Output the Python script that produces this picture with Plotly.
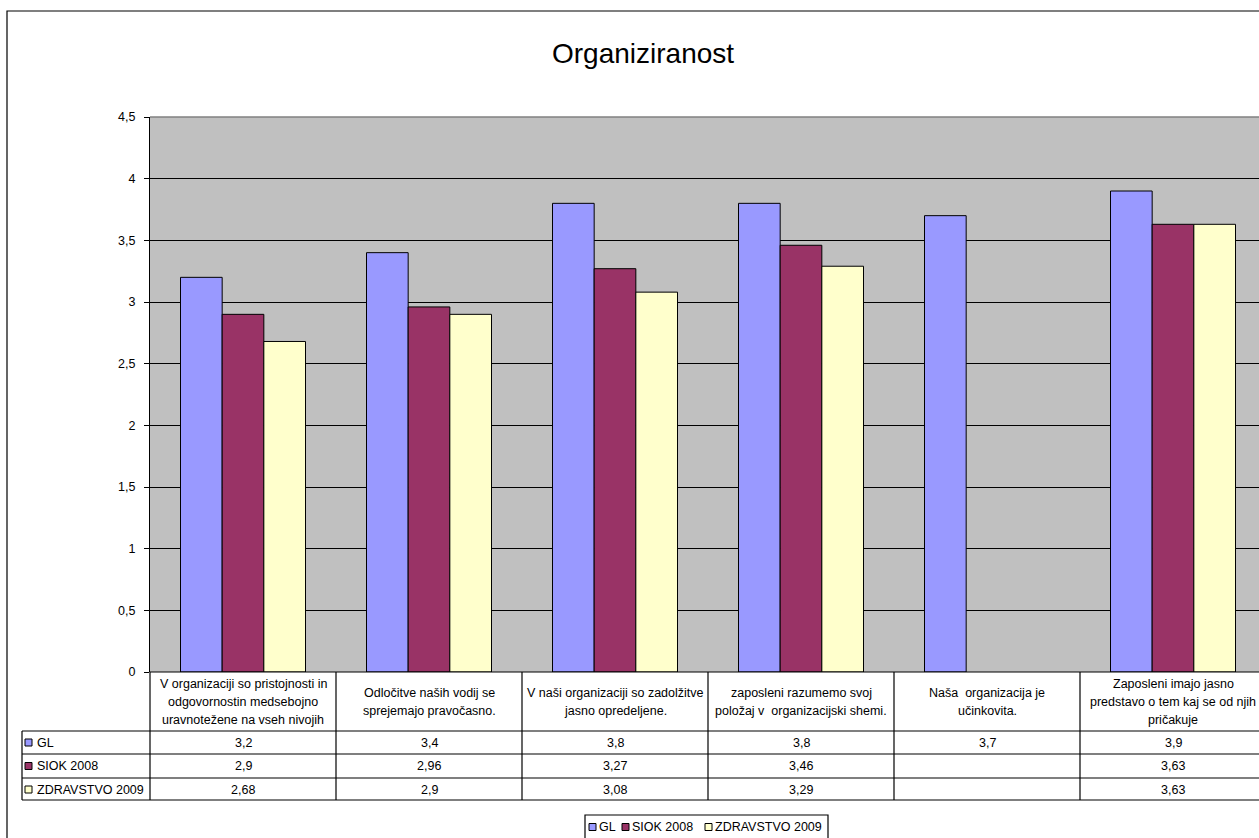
import plotly.graph_objects as go

# ---------------- data ----------------
title_text = "Organiziranost"
categories = [
    "V organizaciji so pristojnosti in<br>odgovornostin medsebojno<br>uravnotežene na vseh nivojih",
    "Odločitve naših vodij se<br>sprejemajo pravočasno.",
    "V naši organizaciji so zadolžitve<br>jasno opredeljene.",
    "zaposleni razumemo svoj<br>položaj v  organizacijski shemi.",
    "Naša  organizacija je<br>učinkovita.",
    "Zaposleni imajo jasno<br>predstavo o tem kaj se od njih<br>pričakuje",
]
series_names = ["GL", "SIOK 2008", "ZDRAVSTVO 2009"]
gl_values = [3.2, 3.4, 3.8, 3.8, 3.7, 3.9]
siok_values = [2.9, 2.96, 3.27, 3.46, None, 3.63]
zdr_values = [2.68, 2.9, 3.08, 3.29, None, 3.63]
y_tick_vals = [0, 0.5, 1, 1.5, 2, 2.5, 3, 3.5, 4, 4.5]
y_tick_text = ["0", "0,5", "1", "1,5", "2", "2,5", "3", "3,5", "4", "4,5"]

series_values = [gl_values, siok_values, zdr_values]
series_colors = ["#9999FF", "#993366", "#FFFFCC"]

# ---------------- geometry ----------------
W, H = 1259, 838
L, T, B, R = 150, 117, 166, 0
PW = W - L - R
PH = H - T - B
BOTTOM = H - B


def px(x):
    return (x - L) / PW


def py(y):
    return (BOTTOM - y) / PH


FONT = "Liberation Sans, Arial, sans-serif"
SMALL = 12.5
LINE = dict(color="black", width=1.2)

fig = go.Figure()
for name, vals, col in zip(series_names, series_values, series_colors):
    fig.add_trace(go.Bar(
        x=categories, y=vals, name=name,
        marker=dict(color=col, line=dict(color="black", width=1)),
    ))

shapes = []
# outer border
shapes.append(dict(type="rect", xref="paper", yref="paper",
                   x0=px(7), x1=px(1290), y0=py(860), y1=py(11),
                   line=LINE, layer="below"))
# top plot border (gray)
shapes.append(dict(type="line", xref="paper", yref="paper", x0=0, x1=1.05, y0=1, y1=1,
                   line=dict(color="#808080", width=1.5)))
# table horizontal lines
shapes.append(dict(type="line", xref="paper", yref="paper", x0=0, x1=1.05,
                   y0=py(672), y1=py(672), line=LINE))
for yy in [731, 754, 778, 800]:
    shapes.append(dict(type="line", xref="paper", yref="paper", x0=px(22), x1=1.05,
                       y0=py(yy), y1=py(yy), line=LINE))
# table vertical lines
shapes.append(dict(type="line", xref="paper", yref="paper", x0=0, x1=0,
                   y0=py(672), y1=py(800), line=LINE))
shapes.append(dict(type="line", xref="paper", yref="paper", x0=px(22), x1=px(22),
                   y0=py(731), y1=py(800), line=LINE))
for i in range(1, len(categories)):
    shapes.append(dict(type="line", xref="x", yref="paper", x0=i - 0.5, x1=i - 0.5,
                       y0=py(672), y1=py(800), line=LINE))

row_centers = [742.5, 766, 789.5]
annotations = []
# title
annotations.append(dict(text=title_text, xref="paper", yref="paper", x=px(643), y=py(53),
                        showarrow=False, xanchor="center", yanchor="middle",
                        font=dict(family=FONT, size=28, color="black")))
# header row (category labels)
for i, cat in enumerate(categories):
    lines = cat.split("<br>")
    n = len(lines)
    for k, line in enumerate(lines):
        yc = 701.5 + (k - (n - 1) / 2) * 18
        annotations.append(dict(text=line, xref="x", yref="paper", x=i, y=py(yc),
                                showarrow=False, xanchor="center", yanchor="middle",
                                font=dict(family=FONT, size=SMALL, color="black")))
# data-table rows
for j, (name, vals, col) in enumerate(zip(series_names, series_values, series_colors)):
    yc = row_centers[j]
    shapes.append(dict(type="rect", xref="paper", yref="paper",
                       x0=px(25), x1=px(32), y0=py(yc + 3.5), y1=py(yc - 3.5),
                       fillcolor=col, line=dict(color="black", width=1)))
    annotations.append(dict(text=name, xref="paper", yref="paper", x=px(35), y=py(yc),
                            showarrow=False, xanchor="left", yanchor="middle",
                            font=dict(family=FONT, size=SMALL, color="black")))
    for i, v in enumerate(vals):
        if v is None:
            continue
        annotations.append(dict(text=str(v).replace(".", ","), xref="x", yref="paper",
                                x=i, y=py(yc), showarrow=False,
                                xanchor="center", yanchor="middle",
                                font=dict(family=FONT, size=SMALL, color="black")))

# legend box at the bottom (drawn like the original compact legend)
shapes.append(dict(type="rect", xref="paper", yref="paper",
                   x0=px(585), x1=px(828), y0=py(860), y1=py(815),
                   line=LINE, fillcolor="white"))
legend_swatch_x = [589, 622, 705]
legend_text_x = [597, 630, 713]
legend_y = 827
for name, col, sx, tx in zip(series_names, series_colors, legend_swatch_x, legend_text_x):
    shapes.append(dict(type="rect", xref="paper", yref="paper",
                       x0=px(sx), x1=px(sx + 7), y0=py(legend_y + 3.5), y1=py(legend_y - 3.5),
                       fillcolor=col, line=dict(color="black", width=1)))
    annotations.append(dict(text=name, xref="paper", yref="paper", x=px(tx), y=py(legend_y),
                            showarrow=False, xanchor="left", yanchor="middle",
                            font=dict(family=FONT, size=12.5, color="black")))

fig.update_layout(
    width=W, height=H,
    margin=dict(l=L, r=R, t=T, b=B, pad=0),
    paper_bgcolor="white",
    plot_bgcolor="#C0C0C0",
    barmode="group", bargap=0.328, bargroupgap=0,
    font=dict(family=FONT, size=SMALL, color="black"),
    shapes=shapes,
    annotations=annotations,
    showlegend=False,
    xaxis=dict(type="category", range=[-0.5, (1259 - 243) / 186], showgrid=False,
               showticklabels=False, showline=False, zeroline=False, ticks=""),
    yaxis=dict(range=[0, 4.5], tickvals=y_tick_vals, ticktext=y_tick_text,
               showgrid=True, gridcolor="black", gridwidth=1,
               showline=True, linecolor="black", linewidth=1.2,
               ticks="outside", ticklen=5, tickcolor="black", tickwidth=1,
               ticklabelstandoff=6, zeroline=False,
               tickfont=dict(family=FONT, size=SMALL, color="black")),
)

fig.write_html("out.html", config={"displayModeBar": False},
               post_script="document.body.style.margin='0';")
